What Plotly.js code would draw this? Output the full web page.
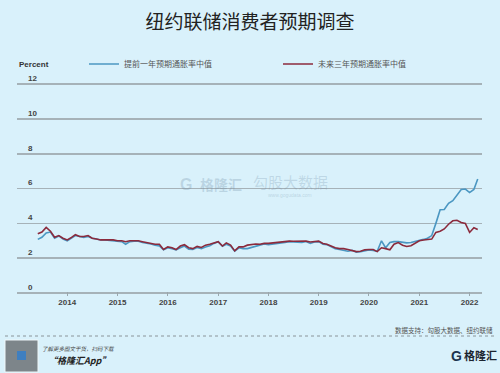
<!DOCTYPE html>
<html><head><meta charset="utf-8">
<script src="https://cdn.plot.ly/plotly-3.0.1.min.js"></script>
<style>html,body{margin:0;padding:0;background:#d9f1fb;}#chart{width:500px;height:373px;}</style>
</head><body><div id="chart"></div>
<script>
// Monthly series starting June 2013, ending March 2022
const startYear = 2013, startMonth = 6;
const oneYearAhead = [
  3.08, 3.2, 3.45, 3.5, 3.15, 3.28, 3.1,
  3.0, 3.15, 3.3, 3.25, 3.2, 3.25, 3.15, 3.1, 3.05, 3.05, 3.02, 3.0,
  3.0, 2.95, 2.8, 2.95, 2.98, 2.97, 2.9, 2.88, 2.82, 2.75, 2.7, 2.48,
  2.6, 2.55, 2.48, 2.6, 2.7, 2.52, 2.5, 2.62, 2.55, 2.65, 2.72, 2.85,
  2.95, 2.68, 2.8, 2.7, 2.4, 2.6, 2.55, 2.55, 2.62, 2.7, 2.78, 2.82,
  2.78, 2.8, 2.85, 2.88, 2.9, 2.95, 2.95, 2.92, 2.9, 2.96, 2.85, 2.93,
  2.95, 2.8, 2.78, 2.65, 2.55, 2.5, 2.45, 2.4, 2.45, 2.35, 2.38, 2.45,
  2.48, 2.45, 2.4, 3.0, 2.6, 2.9, 2.95, 2.95, 2.9, 2.88, 2.9, 2.95,
  3.02, 3.08, 3.15, 3.3, 4.0, 4.78, 4.8, 5.15, 5.3, 5.65, 5.95, 5.97,
  5.77, 5.95, 6.55
];
const threeYearAhead = [
  3.4, 3.5, 3.77, 3.55, 3.2, 3.3, 3.15,
  3.05, 3.2, 3.35, 3.25, 3.25, 3.3, 3.15, 3.1, 3.05, 3.05, 3.05, 3.05,
  3.0, 3.0, 2.95, 3.0, 3.0, 3.0, 2.95, 2.9, 2.85, 2.8, 2.8, 2.5,
  2.65, 2.6, 2.5, 2.7, 2.78, 2.6, 2.55, 2.68, 2.62, 2.75, 2.8, 2.88,
  2.95, 2.7, 2.88, 2.75, 2.42, 2.65, 2.65, 2.75, 2.78, 2.82, 2.8, 2.85,
  2.85, 2.88, 2.92, 2.95, 2.97, 2.98, 2.97, 2.98, 2.96, 2.98, 2.93, 2.96,
  2.98, 2.85, 2.8, 2.7, 2.6, 2.55, 2.55, 2.5, 2.45, 2.38, 2.4, 2.48,
  2.5, 2.5, 2.38, 2.6, 2.55, 2.48, 2.8, 2.9, 2.75, 2.67, 2.72, 2.85,
  3.0, 3.05, 3.07, 3.1, 3.48, 3.55, 3.68, 3.95, 4.15, 4.18, 4.05, 4.0,
  3.48, 3.75, 3.65
];
const seriesNames = ['提前一年预期通胀率中值', '未来三年预期通胀率中值'];
const yTickVals = [0, 2, 4, 6, 8, 10, 12];
const xTickYears = ['2014', '2015', '2016', '2017', '2018', '2019', '2020', '2021', '2022'];

function monthDates(n) {
  const out = [];
  for (let i = 0; i < n; i++) {
    const m = startMonth - 1 + i;
    const y = startYear + Math.floor(m / 12);
    const mm = (m % 12) + 1;
    out.push(y + '-' + String(mm).padStart(2, '0') + '-01');
  }
  return out;
}
const dates = monthDates(oneYearAhead.length);

const W = 500, H = 373;
const M = {l: 17, r: 18, t: 71, b: 77};
const plotH = H - M.t - M.b, plotW = W - M.l - M.r;
const py = px => (H - M.b - px) / plotH;   // pixel y -> paper y
const pxX = px => (px - M.l) / plotW;      // pixel x -> paper x

const FONT = 'Liberation Sans, Noto Sans CJK SC, sans-serif';
const CJK = 'Noto Sans CJK SC, sans-serif';

const traces = [
  {x: dates, y: oneYearAhead, name: seriesNames[0], type: 'scatter', mode: 'lines',
   line: {color: '#4b97c2', width: 1.6}, legend: 'legend'},
  {x: dates, y: threeYearAhead, name: seriesNames[1], type: 'scatter', mode: 'lines',
   line: {color: '#8b2a3c', width: 1.6}, legend: 'legend2'}
];

const layout = {
  width: W, height: H,
  margin: M,
  paper_bgcolor: '#d9f1fb', plot_bgcolor: '#d9f1fb',
  title: {text: '纽约联储消费者预期调查', font: {family: CJK, size: 19, color: '#222'},
          x: 0.5, xanchor: 'center', y: 1 - 22 / H, yanchor: 'middle', yref: 'container'},
  xaxis: {
    type: 'date', range: ['2013-01-01', '2022-04-01'],
    tickvals: xTickYears.map(y => y + '-01-01'), ticktext: xTickYears,
    showgrid: false, zeroline: false, showline: false,
    ticks: 'inside', ticklen: 4, tickcolor: '#9aa7ad',
    tickfont: {family: FONT, size: 8, color: '#444', weight: 'bold'}
  },
  yaxis: {
    range: [-0.17, 12.75], tickvals: yTickVals,
    showgrid: true, gridcolor: '#a6b2b8', gridwidth: 1.6,
    zeroline: true, zerolinecolor: '#a6b2b8', zerolinewidth: 1.6, showline: false,
    ticklabelposition: 'inside', ticklabelshift: -6, ticklabelstandoff: 8,
    tickfont: {family: FONT, size: 8, color: '#444', weight: 'bold'}
  },
  legend: {orientation: 'h', x: pxX(84), xanchor: 'left', y: py(64), yanchor: 'middle',
           font: {family: CJK, size: 8, color: '#555'}, bgcolor: 'rgba(0,0,0,0)'},
  legend2: {orientation: 'h', x: pxX(278), xanchor: 'left', y: py(64), yanchor: 'middle',
           font: {family: CJK, size: 8, color: '#555'}, bgcolor: 'rgba(0,0,0,0)'},
  showlegend: true,
  annotations: [
    {text: '<b>Percent</b>', xref: 'paper', yref: 'paper', x: pxX(17), y: py(64),
     xanchor: 'left', yanchor: 'middle', showarrow: false, font: {family: FONT, size: 8, color: '#333'}},
    {text: '<b>格隆汇</b>', xref: 'paper', yref: 'paper', x: pxX(221), y: py(184),
     xanchor: 'center', yanchor: 'middle', showarrow: false, font: {family: CJK, size: 14, color: 'rgba(110,140,165,0.28)'}},
    {text: 'G', xref: 'paper', yref: 'paper', x: pxX(186), y: py(184),
     xanchor: 'center', yanchor: 'middle', showarrow: false, font: {family: FONT, size: 16, color: 'rgba(110,140,165,0.28)', weight: 'bold'}},
    {text: '勾股大数据', xref: 'paper', yref: 'paper', x: pxX(290), y: py(181),
     xanchor: 'center', yanchor: 'middle', showarrow: false, font: {family: CJK, size: 15, color: 'rgba(110,140,165,0.25)'}},
    {text: 'www.gogudata.com', xref: 'paper', yref: 'paper', x: pxX(290), y: py(195),
     xanchor: 'center', yanchor: 'middle', showarrow: false, font: {family: FONT, size: 5, color: 'rgba(110,140,165,0.3)'}},
    {text: '数据支持：勾股大数据、纽约联储', xref: 'paper', yref: 'paper', x: pxX(495), y: py(330),
     xanchor: 'right', yanchor: 'middle', showarrow: false, font: {family: CJK, size: 6.5, color: '#555'}},
    {text: '<i>了解更多图文干货，扫码下载</i>', xref: 'paper', yref: 'paper', x: pxX(40), y: py(349),
     xanchor: 'left', yanchor: 'middle', showarrow: false, font: {family: CJK, size: 5.5, color: '#444'}},
    {text: '<b><i>“格隆汇App”</i></b>', xref: 'paper', yref: 'paper', x: pxX(46), y: py(361),
     xanchor: 'left', yanchor: 'middle', showarrow: false, font: {family: CJK, size: 9, color: '#222'}},
    {text: '<b>G</b>', xref: 'paper', yref: 'paper', x: pxX(456), y: py(356),
     xanchor: 'center', yanchor: 'middle', showarrow: false, font: {family: FONT, size: 14, color: '#1c3550'}},
    {text: '<b>格隆汇</b>', xref: 'paper', yref: 'paper', x: pxX(480), y: py(355),
     xanchor: 'center', yanchor: 'middle', showarrow: false, font: {family: CJK, size: 11, color: '#1c2530'}}
  ],
  shapes: [
    {type: 'line', xref: 'paper', yref: 'paper', x0: pxX(5), x1: pxX(495), y0: py(336), y1: py(336),
     line: {color: '#8a9499', width: 1, dash: 'dot'}},
    {type: 'rect', xref: 'paper', yref: 'paper', x0: pxX(5), x1: pxX(38), y0: py(340), y1: py(372),
     fillcolor: '#7d858a', line: {color: '#eef6f9', width: 1}},
    {type: 'rect', xref: 'paper', yref: 'paper', x0: pxX(17), x1: pxX(26), y0: py(351), y1: py(360),
     fillcolor: '#3f7fc0', line: {width: 0}}
  ]
};

Plotly.newPlot('chart', traces, layout, {displayModeBar: false, staticPlot: true});
</script>
</body></html>
